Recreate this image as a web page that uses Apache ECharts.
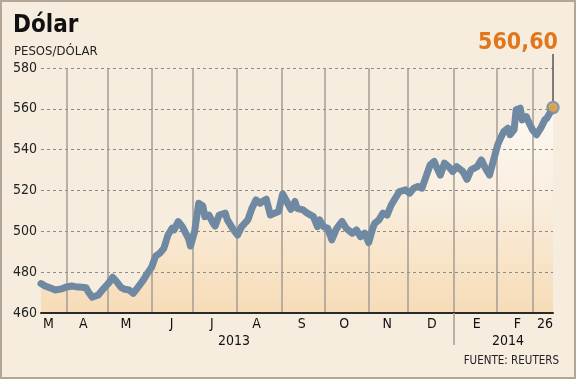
<!DOCTYPE html>
<html><head><meta charset="utf-8">
<script src="https://cdn.jsdelivr.net/npm/echarts@6/dist/echarts.min.js"></script>
<style>
html,body{margin:0;padding:0;background:#f6eddf}
#c{width:576px;height:379px;box-sizing:border-box;border:2px solid #b3a597;background:#f6eddf}
</style>
</head><body><div id="c"></div>
<script>
const FONT = '"DejaVu Sans Condensed","Liberation Sans",Arial,sans-serif';

// trading-day index (Mar 2013 .. 26 Feb 2014) and USD/CLP close
const dayIndex = [0,2,5,7,10,12,15,17,20,22,23,25,28,30,33,35,37,39,41,43,45,47,50,52,54,56,58,60,62,64,65,67,69,72,73,75,77,79,80,82,84,85,87,90,91,94,96,98,101,103,105,107,108,110,112,114,116,118,120,122,124,125,128,130,133,135,136,138,140,142,144,145,147,149,152,154,156,158,160,162,163,165,167,169,171,173,175,178,180,182,184,186,188,190,192,193,195,197,199,201,203,206,208,210,213,215,217,219,221,223,224,226,228,229,231,232,234,235,237,238,240,242,244,246,247,250];
const usdclp = [474.4,473.2,472.1,471.3,471.8,472.6,473.2,472.9,472.6,472.4,470.5,467.7,468.8,471.3,474.6,477.5,475.3,472.6,471.6,471.3,469.6,472.1,476.2,479.5,482.4,487.9,489.3,491.7,498.2,501.5,500.7,504.8,502.3,496.6,492.8,499.9,513.8,512.5,507.2,508.0,504.0,502.6,508.0,508.9,505.6,500.7,498.2,502.3,505.6,511.3,515.4,513.8,514.6,515.7,508.0,508.9,509.7,518.3,514.6,510.8,514.6,511.3,510.5,508.9,507.2,502.3,505.6,502.3,501.5,495.8,500.7,502.3,504.8,501.5,499.1,500.7,497.4,499.1,494.5,501.5,504.0,505.6,508.9,508.0,512.9,516.2,519.5,520.3,518.7,521.1,521.9,521.1,526.8,532.5,534.2,531.7,527.5,533.4,531.7,529.3,531.7,529.3,525.5,530.1,531.7,535.0,530.9,527.6,535.0,542.4,544.8,548.9,550.5,547.3,549.7,559.5,560.3,554.6,556.2,553.8,549.7,547.3,550.5,554.6,555.4,560.6];

const monthBreaks = [12.7,32.5,54,73.9,95.8,117.5,138.4,159.9,179,201.7,222.7,240.2];
const monthLabelAt = [3.6,20.7,41.5,63.8,83.4,105.3,127.3,148.1,169.1,190.8,212.7,232.6,246.1];
const monthLabels = ['M','A','M','J','J','A','S','O','N','D','E','F','26'];
const yearBreak = [201.7];
const yearLabelAt = [94.2,228];
const yearLabels = ['2013','2014'];
const yMin = 460, yMax = 580, yStep = 20;

const pairs = dayIndex.map((d,i)=>[d, usdclp[i]]);
const lastPt = pairs[pairs.length-1];
const xMin = dayIndex[0], xMax = dayIndex[dayIndex.length-1];
function lookup(vals, labels, v){ let b=0; for(let i=0;i<vals.length;i++){ if(Math.abs(vals[i]-v)<Math.abs(vals[b]-v)) b=i;} return labels[b]; }

const LINE = '#6f89a3';
const chart = echarts.init(document.getElementById('c'), null, {renderer:'canvas'});
chart.setOption({
  animation:false,
  backgroundColor:'#f6eddf',
  title:[
    {text:'Dólar', left:6, top:7, padding:5, textStyle:{fontFamily:FONT, fontWeight:'bold', fontSize:24, color:'#111'}},
    {text:'PESOS/DÓLAR', left:7, top:38, padding:5, textStyle:{fontFamily:FONT, fontWeight:'normal', fontSize:13, color:'#222'}},
    {text:'FUENTE: REUTERS', right:10, top:348, padding:5, textStyle:{fontFamily:FONT, fontWeight:'normal', fontSize:11.5, color:'#222'}}
  ],
  grid:{left:39, right:21, top:66, bottom:64, containLabel:false},
  xAxis:[
    {type:'value', min:xMin, max:xMax, z:3,
     axisLine:{show:true, onZero:false, lineStyle:{color:'#2a2a2a', width:2}},
     axisTick:{show:false, customValues:monthBreaks},
     splitLine:{show:true, lineStyle:{color:'#a39c94', width:1.5, type:'solid'}},
     axisLabel:{customValues:monthLabelAt, margin:4, fontFamily:FONT, fontSize:14, color:'#111',
       formatter:v=>lookup(monthLabelAt, monthLabels, v)}},
    {type:'value', min:xMin, max:xMax, position:'bottom', z:3,
     axisLine:{show:false},
     axisTick:{show:true, customValues:yearBreak, length:32, lineStyle:{color:'#a39c94', width:1.5}},
     splitLine:{show:false},
     axisLabel:{customValues:yearLabelAt, margin:21, fontFamily:FONT, fontSize:14, color:'#111',
       formatter:v=>lookup(yearLabelAt, yearLabels, v)}}
  ],
  yAxis:{type:'value', min:yMin, max:yMax, interval:yStep, z:3,
    axisLine:{show:false}, axisTick:{show:false},
    splitLine:{show:true, lineStyle:{color:'#8f8a84', width:1, type:[3,3]}},
    axisLabel:{margin:4, fontFamily:FONT, fontSize:14, color:'#222'}},
  series:[
    {type:'line', data:pairs, z:2, showSymbol:false, silent:true,
     lineStyle:{width:0},
     areaStyle:{origin:'start', color:new echarts.graphic.LinearGradient(0,0,0,1,[
       {offset:0, color:'#fffefb'},{offset:0.45, color:'#fbeedd'},{offset:1, color:'#f7d4a6'}])}},
    {type:'line', data:pairs, z:5, showSymbol:false, silent:true,
     lineStyle:{color:LINE, width:7, cap:'round', join:'round'}},
    {type:'scatter', data:[lastPt], z:6, silent:true, symbol:'circle', symbolSize:11,
     itemStyle:{color:'#f4a93a', borderColor:LINE, borderWidth:2.5},
     markPoint:{silent:true, symbol:'rect', symbolSize:[1.5,47], symbolOffset:[0,-30],
       itemStyle:{color:'#555'},
       data:[{coord:lastPt, value:lastPt[1]}],
       label:{show:true, position:'top', distance:0, offset:[-35,0],
         formatter:p=>p.value.toFixed(2).replace('.',','),
         fontFamily:FONT, fontWeight:'bold', fontSize:23, color:'#e2761c'}}}
  ]
});
</script></body></html>
